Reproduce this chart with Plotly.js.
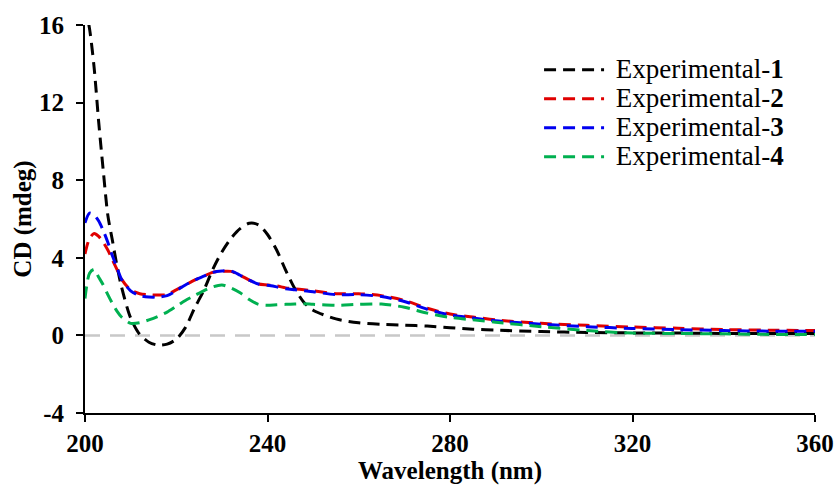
<!DOCTYPE html>
<html>
<head>
<meta charset="utf-8">
<script src="https://cdn.plot.ly/plotly-3.0.1.min.js"></script>
<style>html,body{margin:0;padding:0;background:#fff;}#chart{width:835px;height:486px;}</style>
</head>
<body>
<div id="chart"></div>
<script>
const wavelength = [200,201,202,203,204,205,206,207,208,210,212,214,216,218,220,222,224,226,228,230,232,234,236,238,240,242,244,246,248,250,255,260,265,270,275,280,285,290,300,310,320,330,340,350,360];
const exp1 = [17,15.8,13.8,11,8.5,6.2,4.9,3.6,2.5,0.9,0.05,-0.35,-0.5,-0.45,-0.2,0.4,1.4,2.3,3.4,4.3,5.0,5.5,5.78,5.7,5.2,4.4,3.35,2.4,1.7,1.3,0.85,0.65,0.57,0.53,0.48,0.4,0.32,0.27,0.2,0.15,0.13,0.12,0.1,0.1,0.1];
const exp2 = [4.2,5.0,5.25,5.1,4.8,4.4,3.9,3.4,2.9,2.35,2.15,2.1,2.08,2.1,2.35,2.6,2.85,3.05,3.25,3.3,3.3,3.1,2.85,2.65,2.6,2.55,2.45,2.4,2.35,2.3,2.15,2.15,2.05,1.8,1.4,1.1,0.95,0.8,0.62,0.52,0.43,0.37,0.3,0.27,0.25];
const exp3 = [5.8,6.3,6.2,5.9,5.4,4.8,4.1,3.5,2.9,2.3,2.05,1.98,1.98,2.05,2.3,2.6,2.85,3.05,3.25,3.32,3.32,3.1,2.85,2.65,2.58,2.5,2.4,2.35,2.3,2.25,2.1,2.1,2.0,1.75,1.35,1.05,0.9,0.75,0.58,0.45,0.36,0.3,0.25,0.22,0.22];
const exp4 = [1.9,3.2,3.4,3.0,2.6,2.1,1.65,1.25,0.95,0.62,0.65,0.8,0.98,1.2,1.5,1.8,2.05,2.3,2.5,2.6,2.45,2.2,1.85,1.6,1.55,1.58,1.6,1.62,1.63,1.6,1.55,1.6,1.62,1.45,1.15,0.93,0.8,0.68,0.45,0.25,0.12,0.1,0.08,0.05,0.05];
const seriesLabels = ['1','2','3','4'];
const seriesColors = ['#000000','#e00000','#0000f0','#00b050'];
const yTickVals = [-4, 0, 4, 8, 12, 16];
const yTickText = ['-4', '0', '4', '8', '12', '16'];
const baselineX = [200,360];
const baselineY = [0,0];

const serif = 'Liberation Serif, Times New Roman, serif';
const dashStyle = '12px,7px';

const traces = [{
  x: baselineX, y: baselineY, mode: 'lines', showlegend: false, hoverinfo: 'skip',
  line: {color: '#c8c8c8', width: 2.5, dash: '15px,10px'}
}];
[exp1, exp2, exp3, exp4].forEach((ys, i) => {
  traces.push({
    x: wavelength, y: ys, mode: 'lines',
    name: '<span style="font-size:27px">\u00A0Experimental-<b>' + seriesLabels[i] + '</b></span>',
    line: {color: seriesColors[i], width: 3, dash: dashStyle, shape: 'spline', smoothing: 0.8}
  });
});
const layout = {
  width: 835, height: 486,
  margin: {l: 85, r: 20, t: 25, b: 73},
  paper_bgcolor: '#fff', plot_bgcolor: '#fff',
  showlegend: true,
  legend: {x: 0.622, y: 0.935, xanchor: 'left', yanchor: 'top', bgcolor: 'rgba(0,0,0,0)',
    font: {family: serif, size: 20, color: '#000'}, itemwidth: 60, tracegroupgap: 0},
  xaxis: {
    range: [200, 360], dtick: 40, tick0: 200, showgrid: false, zeroline: false,
    showline: true, linecolor: '#000', linewidth: 2, ticks: 'outside', ticklen: 7, tickwidth: 2, tickcolor: '#000',
    tickfont: {family: serif, size: 25, color: '#000', weight: 'bold'},
    title: {text: '<b>Wavelength (nm)</b>', font: {family: serif, size: 25, color: '#000'}, standoff: 4}
  },
  yaxis: {
    range: [-4, 16], tickmode: 'array', tickvals: yTickVals, ticktext: yTickText,
    showgrid: false, zeroline: false,
    showline: true, linecolor: '#000', linewidth: 2, ticks: 'outside', ticklen: 7, tickwidth: 2, tickcolor: '#000',
    ticklabelstandoff: 7,
    tickfont: {family: serif, size: 25, color: '#000', weight: 'bold'},
    title: {text: '<b>CD (mdeg)</b>', font: {family: serif, size: 25, color: '#000'}, standoff: 0}
  }
};
Plotly.newPlot('chart', traces, layout, {staticPlot: true});
</script>
</body>
</html>
